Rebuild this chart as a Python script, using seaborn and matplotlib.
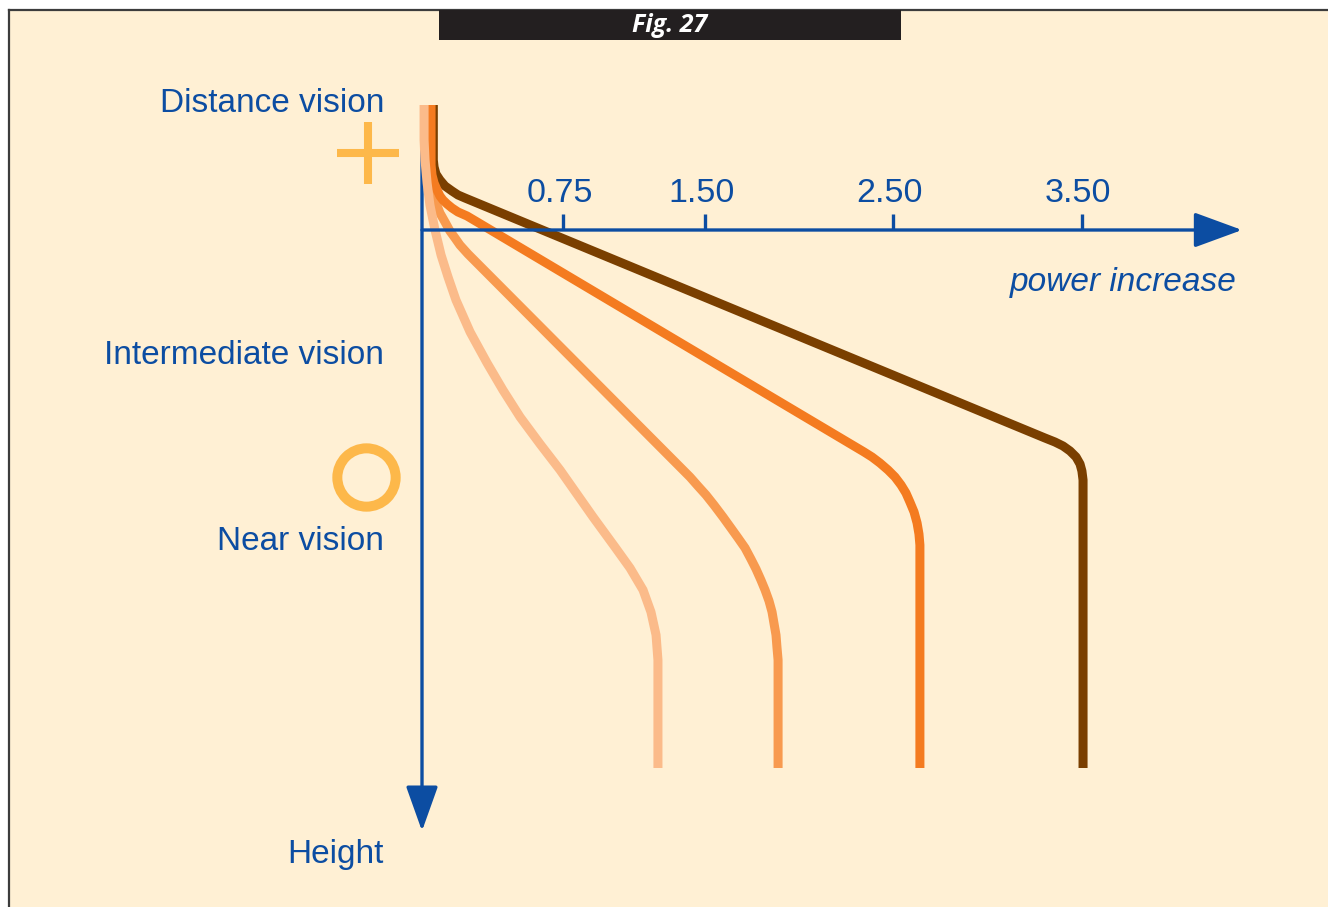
import matplotlib
matplotlib.use("Agg")
import matplotlib.pyplot as plt
from matplotlib.patches import Rectangle, FancyArrowPatch
import numpy as np
import pandas as pd
import seaborn as sns

# ---------------- data (power in dioptres, height below the power axis) -------------
tick_values = [0.75, 1.50, 2.50, 3.50]
tick_labels = ["0.75", "1.50", "2.50", "3.50"]

lens_names = ["lens_350", "lens_188", "lens_264", "lens_125"]

power_350 = [0.06, 0.06, 0.064, 0.074, 0.095, 0.122, 0.159, 0.191, 0.228,
             3.303, 3.356, 3.399, 3.436, 3.468, 3.489, 3.499, 3.505, 3.505, 3.505]
height_350 = [-12.5, -7.0, -6.3, -5.6, -5.0, -4.4, -3.9, -3.5, -3.2,
              20.8, 21.2, 21.6, 22.1, 22.7, 23.4, 24.1, 25.0, 26.0, 53.8]

power_264 = [0.048, 0.048, 0.053, 0.064, 0.080, 0.095, 0.111, 0.133, 0.159, 0.191, 0.239,
             2.344, 2.386, 2.428, 2.471, 2.508, 2.540, 2.566, 2.587, 2.609, 2.625,
             2.635, 2.640, 2.640]
height_264 = [-12.5, -6.5, -5.5, -4.7, -4.0, -3.4, -3.0, -2.6, -2.2, -1.8, -1.4,
              22.2, 22.7, 23.3, 24.0, 24.7, 25.5, 26.3, 27.2, 28.2, 29.3,
              30.4, 31.5, 53.8]

power_188 = [0.037, 0.037, 0.042, 0.053, 0.069, 0.095, 0.122, 0.148, 0.175, 0.201, 0.244,
             1.421, 1.463, 1.506, 1.548, 1.596, 1.638, 1.676, 1.713, 1.744, 1.771,
             1.797, 1.819, 1.840, 1.856, 1.866, 1.877, 1.882, 1.888, 1.888, 1.888]
height_188 = [-12.5, -6.5, -5.0, -4.0, -3.0, -1.7, -0.8, 0.1, 0.8, 1.5, 2.4,
              24.7, 25.6, 26.5, 27.5, 28.7, 29.8, 30.8, 31.8, 32.9, 33.9,
              35.0, 36.0, 37.1, 38.2, 39.3, 40.5, 41.7, 43.0, 44.2, 53.8]

power_125 = [0.011, 0.011, 0.016, 0.027, 0.042, 0.069, 0.101, 0.138, 0.180, 0.255,
             0.345, 0.429, 0.520, 0.626, 0.732, 0.907, 1.023, 1.103, 1.172,
             1.214, 1.241, 1.251, 1.251]
height_125 = [-12.5, -9.0, -7.0, -4.7, -2.5, 0.0, 2.5, 4.7, 7.0, 10.2,
              13.3, 16.0, 18.7, 21.4, 24.0, 28.7, 31.7, 33.8, 36.0,
              38.2, 40.5, 43.0, 53.8]

zone_labels = ["Distance vision", "Intermediate vision", "Near vision", "Height"]
zone_heights = [-12.6, 12.6, 31.1, 62.5]

# ---------------- styling ---------------------------------------------------------
BLUE = "#0C4DA2"
CREAM = "#FFF0D4"
colors = {"lens_350": "#7A3F00", "lens_188": "#F89A4F",
          "lens_264": "#F47B20", "lens_125": "#FBBB8A"}
MARK = "#FDB84A"

W, H = 1328, 907
fig = plt.figure(figsize=(W / 100, H / 100), dpi=100, facecolor="white")
ax = fig.add_axes([9 / W, 0, (W - 9) / W, (H - 10) / H])
ax.set_facecolor(CREAM)

px_per_D = 188.6
XLIM = ((9 - 422) / px_per_D, (W - 422) / px_per_D)
YLIM = (67.7, -22.0)
ax.set_xticks([])
ax.set_yticks([])
for s in ["right", "bottom"]:
    ax.spines[s].set_visible(False)
for s in ["top", "left"]:
    ax.spines[s].set_color("#3C3C3C")
    ax.spines[s].set_linewidth(1.6)

# ---------------- vertical axis (below curves) -------------------------------------
v_arrow = FancyArrowPatch((0, -8.0), (0, 60.1),
                          arrowstyle="-|>,head_length=28,head_width=10",
                          mutation_scale=1, color=BLUE, lw=2.4, zorder=1,
                          shrinkA=0, shrinkB=0)
ax.add_patch(v_arrow)

# ---------------- curves ------------------------------------------------------------
frames = []
for name, p, h in [("lens_350", power_350, height_350),
                   ("lens_188", power_188, height_188),
                   ("lens_264", power_264, height_264),
                   ("lens_125", power_125, height_125)]:
    frames.append(pd.DataFrame({"power": p, "height": h, "lens": name}))
df = pd.concat(frames, ignore_index=True)

sns.lineplot(data=df, x="power", y="height", hue="lens", hue_order=lens_names,
             palette=colors, sort=False, estimator=None, units="lens",
             linewidth=6.5, legend=False, ax=ax, zorder=2,
             solid_capstyle="butt", solid_joinstyle="round")
ax.set_xlabel("")
ax.set_ylabel("")
ax.set_xlim(*XLIM)
ax.set_ylim(*YLIM)

# ---------------- horizontal axis (above curves) -----------------------------------
h_arrow = FancyArrowPatch((0, 0), ((1242 - 422) / px_per_D, 0),
                          arrowstyle="-|>,head_length=30,head_width=11",
                          mutation_scale=1, color=BLUE, lw=2.4, zorder=6,
                          shrinkA=0, shrinkB=0)
ax.add_patch(h_arrow)

for tv, tl in zip(tick_values, tick_labels):
    ax.plot([tv, tv], [0, -1.6], color=BLUE, lw=2.4, solid_capstyle="butt", zorder=6)
    ax.text(tv - 0.02, -3.7, tl, ha="center", va="center", color=BLUE,
            fontsize=24.5, family="Liberation Sans")

ax.text(4.321, 5.2, "power increase", ha="right", va="center", color=BLUE,
        fontsize=24, style="italic", family="Liberation Sans")

label_x = (384 - 422) / px_per_D
for lab, hy in zip(zone_labels, zone_heights):
    ax.text(label_x, hy, lab, ha="right", va="center", color=BLUE,
            fontsize=24, family="Liberation Sans")

# distance (+) and near (o) symbols
ax.plot([-0.286], [-7.7], marker="+", markersize=44, mew=5.8, color=MARK,
        linestyle="none", zorder=3)
ax.plot([-0.297], [24.7], marker="o", markersize=42, mew=7.2, color=MARK,
        markerfacecolor="none", linestyle="none", zorder=3)

# ---------------- title box --------------------------------------------------------
fig.patches.append(Rectangle((439 / W, 1 - 40 / H), 462 / W, 30 / H,
                             transform=fig.transFigure, facecolor="#231F20",
                             edgecolor="none", zorder=10))
fig.text(670 / W, 1 - 25 / H, "Fig. 27", ha="center", va="center",
         color="white", fontsize=18, fontweight="bold", style="italic",
         family="Open Sans", zorder=11)

fig.savefig("out.png", dpi=100, facecolor="white")
